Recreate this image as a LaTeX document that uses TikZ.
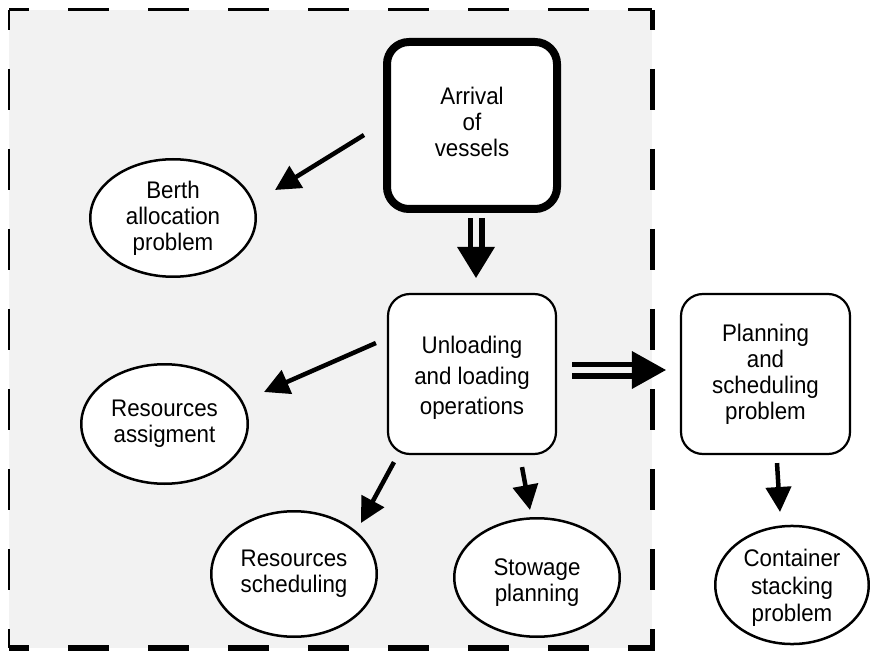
\documentclass[tikz,border=0pt]{standalone}
\usepackage{fontspec}
\setmainfont{Liberation Sans}[FakeStretch=0.93]
\usetikzlibrary{arrows.meta,shapes.geometric,calc}
\begin{document}
\begin{tikzpicture}[x=1pt,y=-1pt,
  lbl/.style={font=\fontsize{24}{26}\selectfont, align=center},
  bigbox/.style={lbl, draw, fill=white, rounded corners=22pt, inner sep=0pt},
  oval/.style={lbl, draw, fill=white, ellipse, line width=2.5pt, inner sep=0pt},
  arw/.style={line width=4.5pt, -{Triangle[length=25pt,width=25pt]}},
  dbl/.style={line width=5.5pt, double=black!5, double distance=6pt},
  border/.style={dash pattern=on 41pt off 39pt, dash phase=21pt}]
\useasboundingbox (0,0) rectangle (870,652);
% background region
\fill[black!5] (9,10) rectangle (652,648);
\draw[border, line width=3pt] (9,10) -- (652,10);
\draw[border, line width=1.8pt] (9,10) -- (9,648);
\draw[border, line width=5pt] (652,10) -- (652,650.5);
\draw[border, line width=5.5pt] (9,648) -- (654.5,648);
% nodes
\node[bigbox, line width=8pt, minimum width=170pt, minimum height=167pt] (arr) at (472,125.5) {Arrival\\of\\vessels\rule[-8pt]{0pt}{1pt}};
\node[bigbox, line width=2.2pt, minimum width=168pt, minimum height=160pt, font=\fontsize{24}{30.5}\selectfont] (unl) at (472,374) {\rule{0pt}{25.5pt}Unloading\\and loading\\operations};
\node[bigbox, line width=2.2pt, minimum width=169pt, minimum height=160pt] (plan) at (765.5,374) {Planning\\and\\scheduling\\problem};
\node[oval, minimum width=165.5pt, minimum height=117.5pt] (berth) at (173,218) {Berth\\allocation\\problem};
\node[oval, minimum width=166.5pt, minimum height=119.5pt] (resA) at (164.5,424) {Resources\\assigment};
\node[oval, minimum width=165.5pt, minimum height=125.5pt] (resS) at (294,574) {Resources\\scheduling};
\node[oval, minimum width=165.5pt, minimum height=118.5pt] (stow) at (537,577.5) {\rule{0pt}{27.5pt}Stowage\\planning};
\node[oval, minimum width=153.5pt, minimum height=117.5pt, font=\fontsize{24}{27.5}\selectfont] (cont) at (792,585) {\rule{0pt}{23.5pt}Container\\stacking\\problem};
% single arrows
\draw[arw] ($(arr.west)+(-19,9.5)$) -- ($(berth.center)+(102,-28)$);
\draw[arw] ($(unl.west)+(-11,-31)$) -- ($(resA.center)+(99.5,-32)$);
\draw[arw] ($(unl.south)+(-78,7)$) -- ($(resS.center)+(67,-51)$);
\draw[arw] ($(unl.south)+(50,12)$) -- ($(stow.center)+(-7,-67.5)$);
\draw[arw] ($(plan.south)+(11.5,8)$) -- ($(cont.center)+(-12,-73)$);
% double arrows
\coordinate (dA) at ($(arr.south)+(4,5)$);
\coordinate (dB) at ($(unl.north)+(4,-15)$);
\draw[dbl] (dA) -- ($(dB)+(0,-30)$);
\fill ($(dB)+(-19,-31)$) -- (dB) -- ($(dB)+(19,-31)$) -- cycle;
\coordinate (rA) at ($(unl.east)+(15,-4)$);
\coordinate (rB) at ($(plan.west)+(-14,-4)$);
\draw[dbl] (rA) -- ($(rB)+(-33,0)$);
\fill ($(rB)+(-34,-19)$) -- (rB) -- ($(rB)+(-34,19)$) -- cycle;
\end{tikzpicture}
\end{document}
